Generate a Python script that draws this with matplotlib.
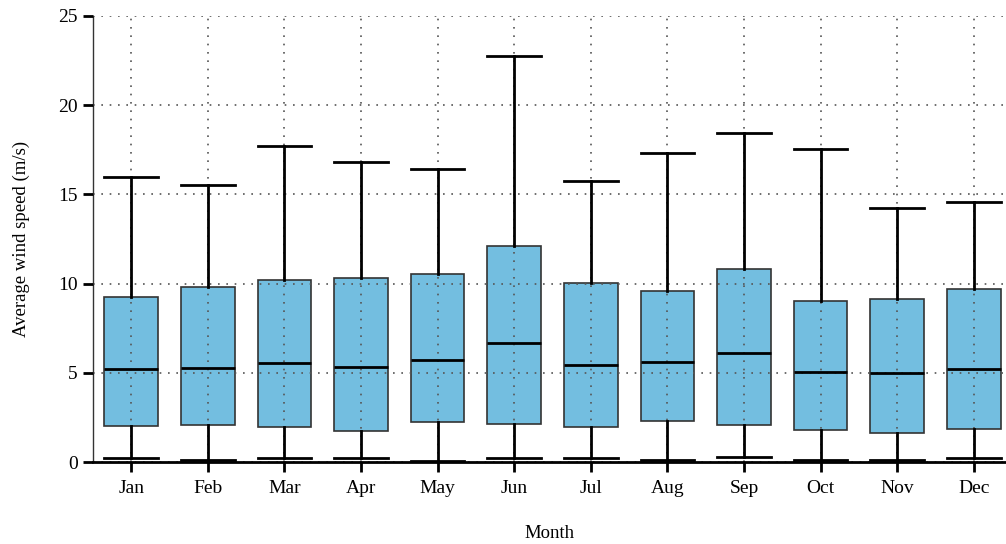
import numpy as np
import matplotlib
matplotlib.use("Agg")
import matplotlib.pyplot as plt

plt.rcParams['font.family'] = ['Liberation Serif', 'DejaVu Serif']

months = ["Jan", "Feb", "Mar", "Apr", "May", "Jun",
          "Jul", "Aug", "Sep", "Oct", "Nov", "Dec"]
whislo = [0.24, 0.13, 0.24, 0.24, 0.07, 0.24, 0.24, 0.13, 0.30, 0.13, 0.13, 0.24]
q1     = [2.01, 2.05, 1.96, 1.73, 2.23, 2.14, 1.94, 2.29, 2.08, 1.81, 1.60, 1.83]
med    = [5.20, 5.27, 5.55, 5.33, 5.72, 6.67, 5.46, 5.60, 6.11, 5.05, 4.99, 5.21]
q3     = [9.27, 9.81, 10.20, 10.34, 10.52, 12.09, 10.04, 9.59, 10.80, 9.01, 9.11, 9.70]
whishi = [15.95, 15.55, 17.73, 16.83, 16.44, 22.78, 15.75, 17.34, 18.45, 17.56, 14.25, 14.60]

stats = []
for i in range(len(months)):
    stats.append(dict(label=months[i], whislo=whislo[i], q1=q1[i], med=med[i],
                      q3=q3[i], whishi=whishi[i], fliers=[]))

fig = plt.figure(figsize=(10.06, 5.44), dpi=100)
ax = fig.add_axes([0.0924, 0.1507, 0.9076, 0.82])

bp = ax.bxp(stats, positions=np.arange(1, 13), widths=0.7, patch_artist=True,
            showfliers=False,
            boxprops=dict(facecolor="#73bee0", edgecolor="#333333", linewidth=1.2),
            medianprops=dict(color="black", linewidth=2),
            whiskerprops=dict(color="black", linewidth=2),
            capprops=dict(color="black", linewidth=2),
            capwidths=0.7)

ax.set_xlim(0.5, 12.42)
ax.set_ylim(0, 25)
ax.set_yticks([0, 5, 10, 15, 20, 25])
ax.grid(True, linestyle=(0, (1, 4)), color="#555555", linewidth=1.2)

for s in ["top", "right"]:
    ax.spines[s].set_visible(False)
ax.spines["left"].set_linewidth(1)
ax.spines["left"].set_color("#333333")
ax.spines["bottom"].set_linewidth(2)
ax.spines["bottom"].set_zorder(5)
ax.tick_params(axis="both", direction="out", length=7, width=2, labelsize=14)
ax.tick_params(axis="y", pad=4)
ax.tick_params(axis="x", pad=6)

ax.set_xlabel("Month", fontsize=13.5, labelpad=20)
ax.set_ylabel("Average wind speed (m/s)", fontsize=13.5, labelpad=20)

# boxes under the dotted grid, whiskers/medians/caps above it
for b in bp["boxes"]:
    b.set_zorder(0.8)
for key in ["whiskers", "caps", "medians"]:
    for ln in bp[key]:
        ln.set_zorder(4)
ax.xaxis.set_zorder(2.5)
ax.yaxis.set_zorder(2.5)

fig.savefig("out.png", dpi=100)
